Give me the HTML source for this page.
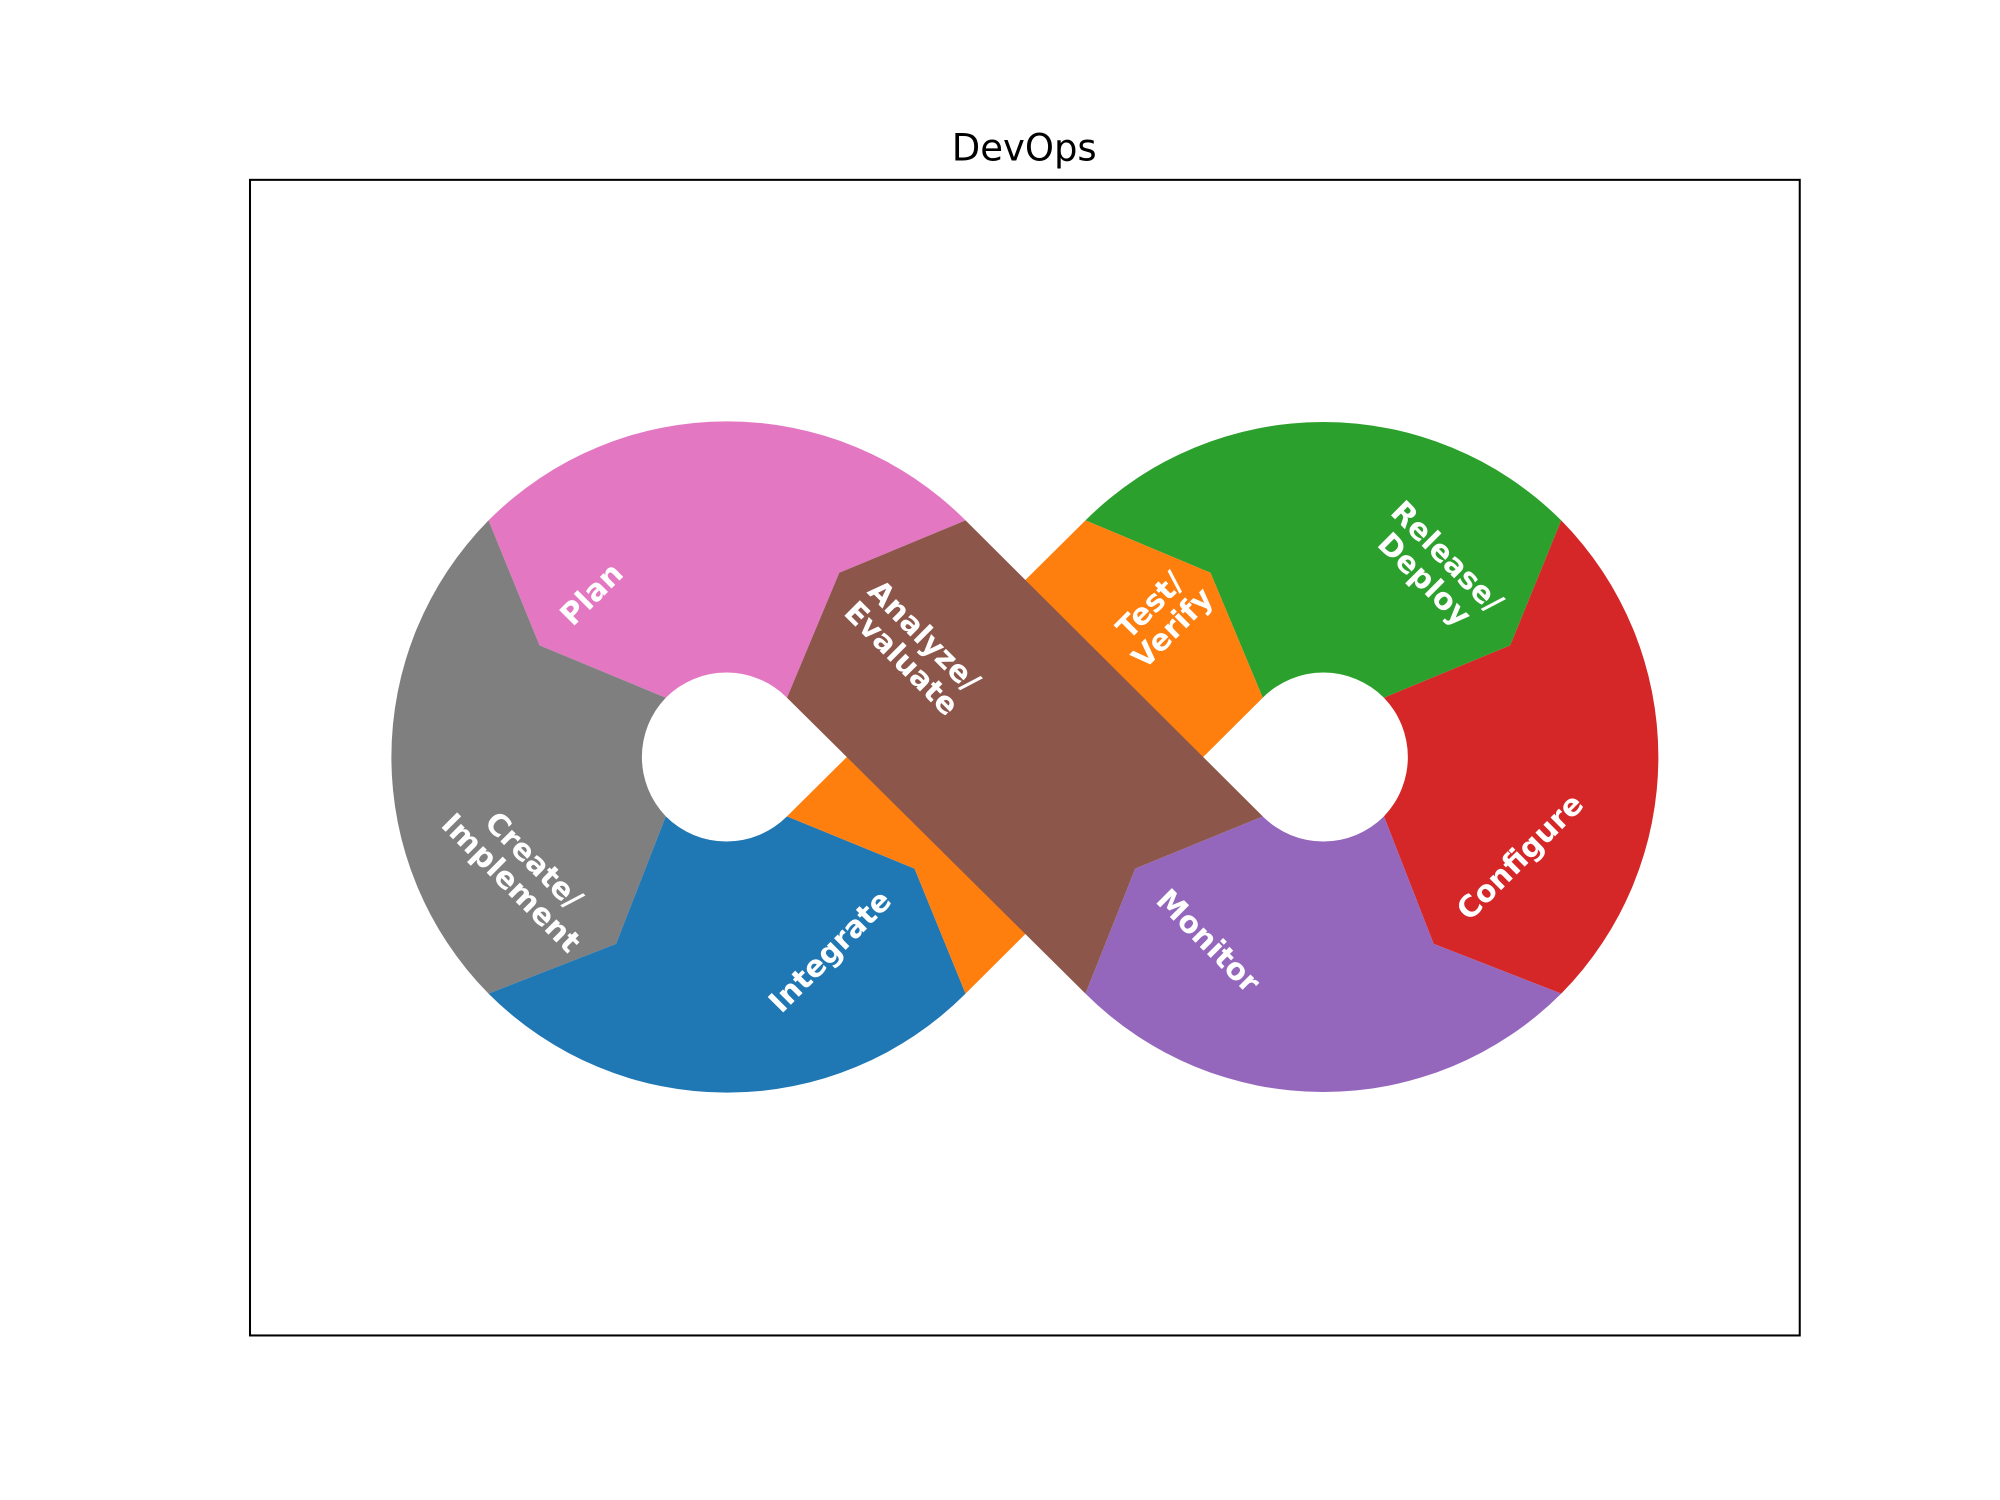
<!DOCTYPE html>
<html><head><meta charset="utf-8"><style>
html,body{margin:0;padding:0;background:#fff;}
svg{display:block;}
text{font-family:"DejaVu Sans","Liberation Sans",sans-serif;}
.l{fill:#fff;font-weight:bold;font-size:23.5px;text-anchor:middle;}
</style></head><body>
<svg width="2000" height="1500" viewBox="0 0 1568 1176" xmlns="http://www.w3.org/2000/svg">
<rect x="0" y="0" width="1568" height="1176" fill="#fff"/>
<text x="803" y="126" font-size="29" text-anchor="middle" fill="#000">DevOps</text>
<rect x="196" y="141" width="1215" height="906" fill="none" stroke="#000" stroke-width="1.6"/>

<path d="M522,547 L423,506 L383,408 A264,264 0 0 1 757,408 L658,449 L617,547 A67,67 0 0 0 522,547 Z" fill="#e377c2"/>
<path d="M522,640 L483,740 L383,779 A264,264 0 0 1 383,408 L423,506 L522,547 A67,67 0 0 0 522,640 Z" fill="#7f7f7f"/>
<path d="M617,640 L717,681 L757,779 A264,264 0 0 1 383,779 L483,740 L522,640 A67,67 0 0 0 617,640 Z" fill="#1f77b4"/>
<path d="M990,547 L949,449 L851,408 A264,264 0 0 1 1224,408 L1184,506 L1085,547 A67,67 0 0 0 990,547 Z" fill="#2ca02c"/>
<path d="M1085,547 L1184,506 L1224,408 A264,264 0 0 1 1224,779 L1124,740 L1085,640 A67,67 0 0 0 1085,547 Z" fill="#d62728"/>
<path d="M1085,640 L1124,740 L1224,779 A264,264 0 0 1 851,779 L890,681 L990,640 A67,67 0 0 0 1085,640 Z" fill="#9467bd"/>
<polygon points="617,640 717,681 757,779 990,547 949,449 851,408" fill="#ff7f0e"/>
<polygon points="617,547 658,449 757,408 990,640 890,681 851,779" fill="#8c564b"/>

<g class="l">
<text transform="translate(463,465) rotate(-45)" y="9">Plan</text>
<text transform="translate(716,507) rotate(45)"><tspan x="0" y="-4">Analyze/</tspan><tspan x="0" y="21">Evaluate</tspan></text>
<text transform="translate(910,483) rotate(-45)"><tspan x="0" y="-4">Test/</tspan><tspan x="0" y="21">Verify</tspan></text>
<text transform="translate(1126,445) rotate(45)"><tspan x="0" y="-4">Release/</tspan><tspan x="0" y="21">Deploy</tspan></text>
<text transform="translate(410,683) rotate(45)"><tspan x="0" y="-4">Create/</tspan><tspan x="0" y="21">Implement</tspan></text>
<text transform="translate(650,745) rotate(-45)" y="9">Integrate</text>
<text transform="translate(948,737) rotate(45)" y="9">Monitor</text>
<text transform="translate(1191,671) rotate(-45)" y="9">Configure</text>
</g>
</svg>
</body></html>
